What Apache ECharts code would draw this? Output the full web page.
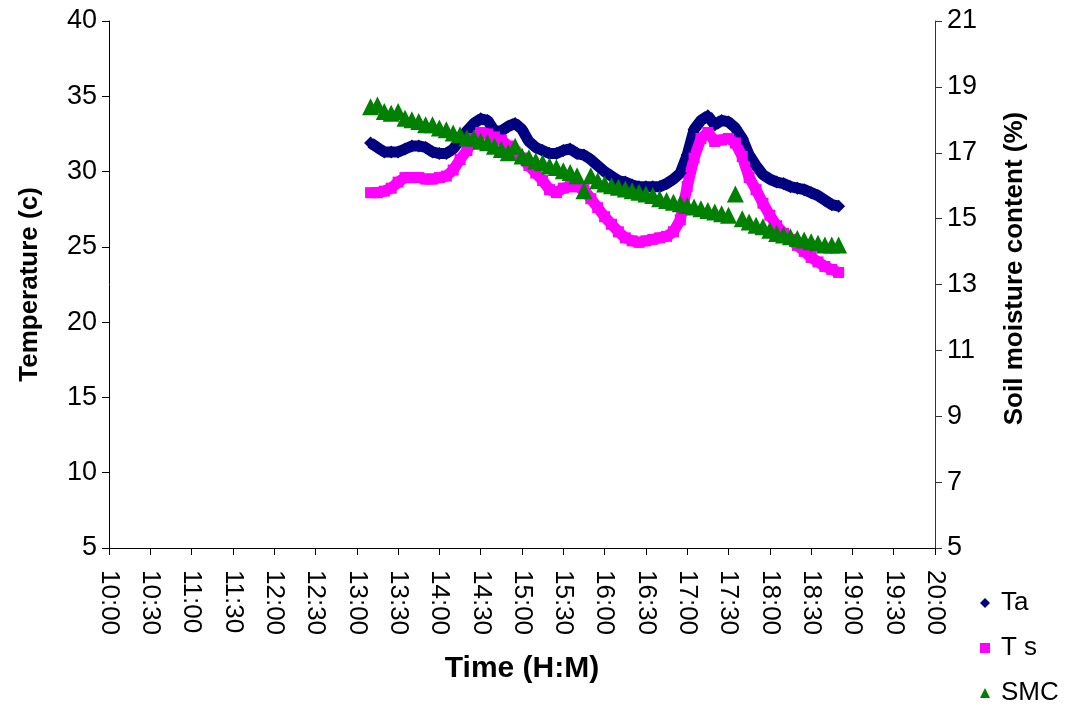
<!DOCTYPE html>
<html>
<head>
<meta charset="utf-8">
<script src="https://cdn.jsdelivr.net/npm/echarts@6/dist/echarts.min.js"></script>
<style>
  html, body { margin: 0; padding: 0; background: #ffffff; }
  #chart { width: 1075px; height: 708px; }
</style>
</head>
<body>
<div id="chart"></div>
<script>
// Logged readings, one every 5 minutes (H:MM)
const times = [
  "13:10","13:15","13:20","13:25","13:30","13:35","13:40","13:45","13:50","13:55",
  "14:00","14:05","14:10","14:15","14:20","14:25","14:30","14:35","14:40","14:45",
  "14:50","14:55","15:00","15:05","15:10","15:15","15:20","15:25","15:30","15:35",
  "15:40","15:45","15:50","15:55","16:00","16:05","16:10","16:15","16:20","16:25",
  "16:30","16:35","16:40","16:45","16:50","16:55","17:00","17:05","17:10","17:15",
  "17:20","17:25","17:30","17:35","17:40","17:45","17:50","17:55","18:00","18:05",
  "18:10","18:15","18:20","18:25","18:30","18:35","18:40","18:45","18:50"
];

// Air temperature (°C)
const ta = [
  31.9, 31.6, 31.3, 31.3, 31.3, 31.5, 31.7, 31.7, 31.6, 31.3,
  31.2, 31.2, 31.5, 32.1, 32.7, 33.2, 33.5, 33.4, 32.7, 32.7,
  33.0, 33.2, 32.8, 32.0, 31.6, 31.4, 31.2, 31.2, 31.4, 31.5,
  31.2, 31.1, 30.8, 30.4, 30.0, 29.7, 29.4, 29.3, 29.1, 29.0,
  29.0, 29.0, 29.0, 29.2, 29.5, 29.9, 31.1, 32.8, 33.4, 33.7,
  33.1, 33.4, 33.3, 32.9, 32.2, 31.1, 30.4, 29.8, 29.5, 29.3,
  29.2, 29.0, 28.9, 28.8, 28.6, 28.4, 28.1, 27.8, 27.7
];

// Soil temperature (°C)
const ts = [
  28.6, 28.6, 28.7, 28.9, 29.3, 29.6, 29.6, 29.6, 29.5, 29.5,
  29.6, 29.7, 30.1, 30.8, 31.4, 32.2, 32.6, 32.5, 32.3, 32.1,
  31.7, 31.3, 30.9, 30.4, 29.9, 29.4, 28.8, 28.6, 28.9, 29.0,
  29.0, 28.8, 28.2, 27.6, 27.0, 26.5, 26.0, 25.6, 25.4, 25.3,
  25.4, 25.5, 25.6, 25.7, 26.0, 26.8, 29.0, 30.9, 32.2, 32.6,
  32.0, 32.1, 32.2, 31.9, 31.0, 29.6, 28.8, 27.9, 27.1, 26.4,
  25.9, 25.5, 25.1, 24.7, 24.3, 24.0, 23.7, 23.5, 23.3
];

// Soil moisture content (%)
const smc = [
  18.40, 18.45, 18.25, 18.20, 18.25, 18.05, 18.00, 17.95, 17.85, 17.85,
  17.75, 17.70, 17.60, 17.55, 17.45, 17.45, 17.35, 17.30, 17.20, 17.10,
  17.00, 17.20, 16.90, 16.85, 16.75, 16.70, 16.60, 16.55, 16.45, 16.40,
  16.30, 15.85, 16.30, 16.15, 16.05, 16.00, 15.95, 15.90, 15.85, 15.80,
  15.75, 15.70, 15.60, 15.55, 15.50, 15.45, 15.40, 15.35, 15.30, 15.25,
  15.20, 15.15, 15.10, 15.75, 15.00, 14.90, 14.80, 14.75, 14.65, 14.55,
  14.50, 14.45, 14.40, 14.35, 14.30, 14.25, 14.20, 14.20, 14.20
];

// Axis ranges and tick steps
const timeMin = "10:00", timeMax = "20:00", timeStep = 30;   // minutes
const tempMin = 5, tempMax = 40, tempStep = 5;
const smcMin = 5, smcMax = 21, smcStep = 2;

const toMinutes = s => { const [h, m] = s.split(":").map(Number); return h * 60 + m; };
const fmtTime = v => Math.floor(v / 60) + ":" + String(Math.round(v % 60)).padStart(2, "0");
const pairs = vals => times.map((t, i) => [toMinutes(t), vals[i]]);

const FONT = "'Liberation Sans', Arial, sans-serif";
const TICK = 26;
const TITLE = 26;

const chart = echarts.init(document.getElementById("chart"), null, { renderer: "canvas" });

chart.setOption({
  animation: false,
  backgroundColor: "#ffffff",
  textStyle: { fontFamily: FONT, color: "#000" },
  grid: { left: 109, right: 140, top: 21, bottom: 160, containLabel: false },
  legend: {
    orient: "vertical",
    left: 980,
    top: 590,
    padding: 0,
    itemWidth: 10,
    itemHeight: 10,
    itemGap: 19,
    textStyle: { fontFamily: FONT, fontSize: 26, color: "#000", padding: [0, 0, 0, 6] },
    data: [
      { name: "Ta", icon: "diamond" },
      { name: "T s", icon: "rect" },
      { name: "SMC", icon: "triangle" }
    ]
  },
  xAxis: {
    type: "value",
    min: toMinutes(timeMin),
    max: toMinutes(timeMax),
    interval: timeStep,
    name: "Time (H:M)",
    nameLocation: "middle",
    nameGap: 106,
    nameTextStyle: { fontFamily: FONT, fontSize: 30, fontWeight: "bold", color: "#000" },
    axisLine: { show: true, lineStyle: { color: "#000", width: 1 } },
    axisTick: { show: true, length: 7, lineStyle: { color: "#000" } },
    axisLabel: {
      rotate: -90,
      margin: 22,
      fontSize: TICK,
      fontFamily: FONT,
      color: "#000",
      formatter: fmtTime
    },
    splitLine: { show: false }
  },
  yAxis: [
    {
      type: "value",
      position: "left",
      min: tempMin,
      max: tempMax,
      interval: tempStep,
      name: "Temperature (c)",
      nameLocation: "middle",
      nameRotate: 90,
      nameGap: 66,
      nameTextStyle: { fontFamily: FONT, fontSize: TITLE, fontWeight: "bold", color: "#000" },
      axisLine: { show: true, lineStyle: { color: "#000", width: 1 } },
      axisTick: { show: true, length: 7, lineStyle: { color: "#000" } },
      axisLabel: { fontSize: 27, fontFamily: FONT, color: "#000", margin: 12 },
      splitLine: { show: false }
    },
    {
      type: "value",
      position: "right",
      min: smcMin,
      max: smcMax,
      interval: smcStep,
      name: "Soil moisture content (%)",
      nameLocation: "middle",
      nameRotate: 90,
      nameGap: 67,
      nameTextStyle: {
        fontFamily: FONT, fontSize: TITLE, fontWeight: "bold", color: "#000",
        padding: [0, 0, 0, 32]
      },
      axisLine: { show: true, lineStyle: { color: "#333", width: 1 } },
      axisTick: { show: true, length: 7, lineStyle: { color: "#333" } },
      axisLabel: { fontSize: 27, fontFamily: FONT, color: "#000", margin: 12 },
      splitLine: { show: false }
    }
  ],
  series: [
    {
      name: "Ta",
      type: "line",
      yAxisIndex: 0,
      data: pairs(ta),
      symbol: "diamond",
      symbolSize: 13,
      showAllSymbol: true,
      color: "#000080",
      itemStyle: { color: "#000080" },
      lineStyle: { color: "#000080", width: 11 }
    },
    {
      name: "T s",
      type: "line",
      yAxisIndex: 0,
      data: pairs(ts),
      symbol: "rect",
      symbolSize: 11,
      showAllSymbol: true,
      color: "#ff00ff",
      itemStyle: { color: "#ff00ff" },
      lineStyle: { color: "#ff00ff", width: 11 }
    },
    {
      name: "SMC",
      type: "line",
      yAxisIndex: 1,
      data: pairs(smc),
      symbol: "triangle",
      symbolSize: 17,
      showAllSymbol: true,
      color: "#008000",
      itemStyle: { color: "#008000" },
      lineStyle: { width: 0, opacity: 0 }
    }
  ]
});
</script>
</body>
</html>
